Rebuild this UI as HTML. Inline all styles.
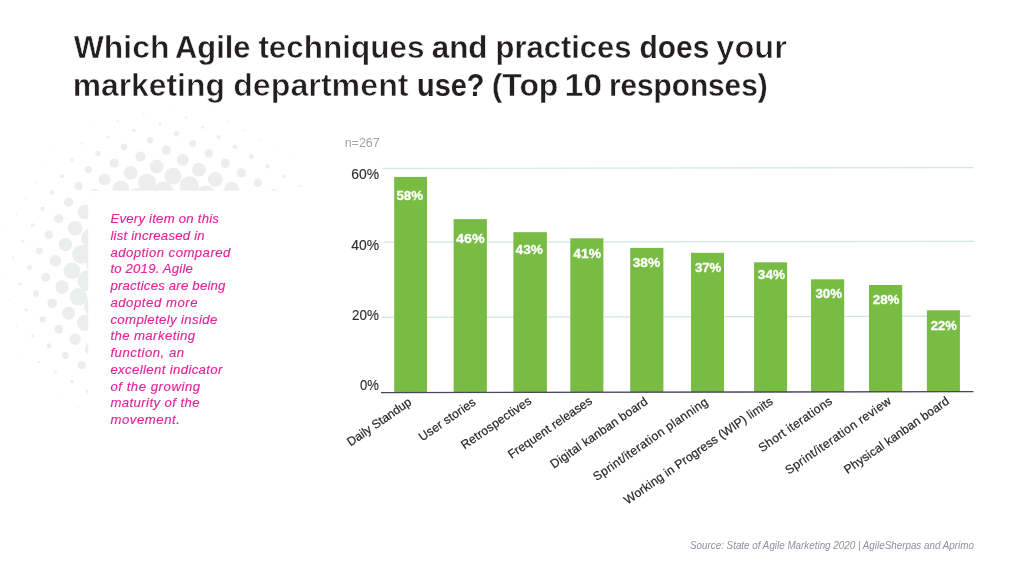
<!DOCTYPE html>
<html><head><meta charset="utf-8"><title>Agile techniques</title>
<style>
html,body{margin:0;padding:0;background:#fff;}
body{width:1024px;height:576px;position:relative;overflow:hidden;font-family:"Liberation Sans",sans-serif;}
svg{position:absolute;left:0;top:0;}
svg text{font-family:"Liberation Sans",sans-serif;}
.note{position:absolute;left:110.4px;top:211px;width:140px;font-size:13.2px;line-height:16.75px;font-style:italic;color:#e3239a;white-space:nowrap;-webkit-text-stroke:0.15px #e3239a;}
.note div{position:absolute;left:0;}
#wrap{position:absolute;left:0;top:0;width:1024px;height:576px;background:transparent;will-change:transform;}
</style></head><body><div id="wrap">
<svg width="1024" height="576" viewBox="0 0 1024 576"><g fill="#eceeed"><circle cx="-3.1" cy="247.9" r="0.23"/><circle cx="6.7" cy="231.6" r="0.52"/><circle cx="16.5" cy="215.3" r="0.75"/><circle cx="26.2" cy="199.0" r="0.87"/><circle cx="36.0" cy="182.7" r="0.87"/><circle cx="45.8" cy="166.4" r="0.77"/><circle cx="55.6" cy="150.1" r="0.55"/><circle cx="65.4" cy="133.8" r="0.26"/><circle cx="3.4" cy="274.0" r="0.62"/><circle cx="13.2" cy="257.7" r="1.05"/><circle cx="23.0" cy="241.4" r="1.47"/><circle cx="32.8" cy="225.1" r="1.96"/><circle cx="42.5" cy="208.8" r="2.27"/><circle cx="52.3" cy="192.5" r="2.29"/><circle cx="62.1" cy="176.2" r="2.00"/><circle cx="71.9" cy="159.9" r="1.53"/><circle cx="81.7" cy="143.6" r="1.08"/><circle cx="91.5" cy="127.3" r="0.67"/><circle cx="0.1" cy="316.3" r="0.21"/><circle cx="9.9" cy="300.0" r="0.83"/><circle cx="19.7" cy="283.7" r="1.45"/><circle cx="29.5" cy="267.4" r="2.52"/><circle cx="39.3" cy="251.1" r="3.49"/><circle cx="49.0" cy="234.8" r="4.18"/><circle cx="58.8" cy="218.5" r="4.57"/><circle cx="68.6" cy="202.2" r="4.59"/><circle cx="78.4" cy="185.9" r="4.24"/><circle cx="88.2" cy="169.6" r="3.58"/><circle cx="98.0" cy="153.3" r="2.64"/><circle cx="107.8" cy="137.0" r="1.55"/><circle cx="117.6" cy="120.7" r="0.90"/><circle cx="127.4" cy="104.4" r="0.28"/><circle cx="16.4" cy="326.1" r="0.82"/><circle cx="26.2" cy="309.8" r="1.66"/><circle cx="36.0" cy="293.5" r="3.13"/><circle cx="45.8" cy="277.2" r="4.50"/><circle cx="55.6" cy="260.9" r="5.79"/><circle cx="65.4" cy="244.6" r="6.75"/><circle cx="75.1" cy="228.3" r="7.32"/><circle cx="84.9" cy="212.0" r="7.34"/><circle cx="94.7" cy="195.7" r="6.84"/><circle cx="104.5" cy="179.4" r="5.91"/><circle cx="114.3" cy="163.1" r="4.65"/><circle cx="124.1" cy="146.8" r="3.29"/><circle cx="133.9" cy="130.5" r="1.80"/><circle cx="143.7" cy="114.2" r="0.90"/><circle cx="22.9" cy="352.2" r="0.60"/><circle cx="32.7" cy="335.9" r="1.43"/><circle cx="42.5" cy="319.6" r="3.11"/><circle cx="52.3" cy="303.3" r="4.88"/><circle cx="62.1" cy="287.0" r="6.69"/><circle cx="71.9" cy="270.7" r="8.19"/><circle cx="81.6" cy="254.4" r="9.45"/><circle cx="91.4" cy="238.1" r="10.15"/><circle cx="120.8" cy="189.2" r="8.35"/><circle cx="130.6" cy="172.9" r="6.89"/><circle cx="140.4" cy="156.6" r="5.09"/><circle cx="150.2" cy="140.3" r="3.30"/><circle cx="160.0" cy="124.0" r="1.57"/><circle cx="169.8" cy="107.7" r="0.68"/><circle cx="39.2" cy="362.0" r="1.02"/><circle cx="49.0" cy="345.7" r="2.46"/><circle cx="58.8" cy="329.4" r="4.44"/><circle cx="68.6" cy="313.1" r="6.65"/><circle cx="78.4" cy="296.8" r="8.75"/><circle cx="88.2" cy="280.5" r="10.62"/><circle cx="98.0" cy="264.2" r="11.71"/><circle cx="137.1" cy="199.0" r="10.75"/><circle cx="146.9" cy="182.7" r="8.98"/><circle cx="156.7" cy="166.4" r="6.91"/><circle cx="166.5" cy="150.1" r="4.68"/><circle cx="176.3" cy="133.8" r="2.68"/><circle cx="186.1" cy="117.5" r="1.10"/><circle cx="195.8" cy="101.2" r="0.28"/><circle cx="45.7" cy="388.1" r="0.48"/><circle cx="55.5" cy="371.8" r="1.42"/><circle cx="65.3" cy="355.5" r="3.41"/><circle cx="75.1" cy="339.2" r="5.70"/><circle cx="84.9" cy="322.9" r="8.12"/><circle cx="94.7" cy="306.6" r="10.59"/><circle cx="163.2" cy="192.5" r="10.77"/><circle cx="173.0" cy="176.2" r="8.40"/><circle cx="182.8" cy="159.9" r="5.96"/><circle cx="192.6" cy="143.6" r="3.63"/><circle cx="202.4" cy="127.3" r="1.57"/><circle cx="212.2" cy="111.0" r="0.58"/><circle cx="62.0" cy="397.8" r="0.70"/><circle cx="71.8" cy="381.5" r="1.86"/><circle cx="81.6" cy="365.2" r="4.07"/><circle cx="91.4" cy="348.9" r="6.61"/><circle cx="189.3" cy="185.9" r="9.63"/><circle cx="199.1" cy="169.6" r="6.92"/><circle cx="208.9" cy="153.3" r="4.30"/><circle cx="218.7" cy="137.0" r="2.07"/><circle cx="228.4" cy="120.7" r="0.80"/><circle cx="78.3" cy="407.6" r="0.81"/><circle cx="88.1" cy="391.3" r="2.13"/><circle cx="205.6" cy="195.7" r="10.29"/><circle cx="215.4" cy="179.4" r="7.42"/><circle cx="225.2" cy="163.1" r="4.69"/><circle cx="235.0" cy="146.8" r="2.37"/><circle cx="244.8" cy="130.5" r="0.91"/><circle cx="231.7" cy="189.2" r="7.41"/><circle cx="241.5" cy="172.9" r="4.68"/><circle cx="251.3" cy="156.6" r="2.37"/><circle cx="261.0" cy="140.3" r="0.90"/><circle cx="257.8" cy="182.7" r="4.29"/><circle cx="267.6" cy="166.4" r="2.06"/><circle cx="277.4" cy="150.1" r="0.79"/><circle cx="274.1" cy="192.5" r="3.61"/><circle cx="283.9" cy="176.2" r="1.55"/><circle cx="293.6" cy="159.9" r="0.57"/><circle cx="300.2" cy="185.9" r="1.09"/><circle cx="310.0" cy="169.6" r="0.27"/></g><rect x="88.2" y="190.7" width="936" height="386" fill="#fff"/><line x1="382.5" y1="168.4" x2="973.0" y2="167.6" stroke="#cfe7e0" stroke-width="1.2"/><line x1="383.7" y1="242.2" x2="973.9" y2="241.4" stroke="#cfe7e0" stroke-width="1.2"/><line x1="381.0" y1="317.4" x2="970.7" y2="316.2" stroke="#cfe7e0" stroke-width="1.2"/><rect x="394.2" y="176.9" width="32.8" height="215.1" fill="#78bc43"/><rect x="453.6" y="219.1" width="33.3" height="172.9" fill="#78bc43"/><rect x="513.4" y="232.2" width="33.5" height="159.8" fill="#78bc43"/><rect x="570.3" y="238.3" width="33.1" height="153.7" fill="#78bc43"/><rect x="630.2" y="247.9" width="33.2" height="144.1" fill="#78bc43"/><rect x="691.0" y="252.8" width="33.0" height="139.2" fill="#78bc43"/><rect x="754.1" y="262.3" width="33.0" height="129.7" fill="#78bc43"/><rect x="811.0" y="279.3" width="33.2" height="112.7" fill="#78bc43"/><rect x="869.0" y="285.0" width="33.2" height="107.0" fill="#78bc43"/><rect x="926.9" y="310.3" width="33.0" height="81.7" fill="#78bc43"/><text x="409.7" y="199.5" text-anchor="middle" font-weight="bold" font-size="13.3" fill="#fff" stroke="#fff" stroke-width="0.3" textLength="26.6" lengthAdjust="spacingAndGlyphs">58%</text><text x="470.4" y="242.8" text-anchor="middle" font-weight="bold" font-size="13.3" fill="#fff" stroke="#fff" stroke-width="0.3" textLength="28.7" lengthAdjust="spacingAndGlyphs">46%</text><text x="529.2" y="254.0" text-anchor="middle" font-weight="bold" font-size="13.3" fill="#fff" stroke="#fff" stroke-width="0.3" textLength="27.3" lengthAdjust="spacingAndGlyphs">43%</text><text x="587.2" y="257.8" text-anchor="middle" font-weight="bold" font-size="13.3" fill="#fff" stroke="#fff" stroke-width="0.3" textLength="27.8" lengthAdjust="spacingAndGlyphs">41%</text><text x="646.4" y="266.7" text-anchor="middle" font-weight="bold" font-size="13.3" fill="#fff" stroke="#fff" stroke-width="0.3" textLength="27.5" lengthAdjust="spacingAndGlyphs">38%</text><text x="708.1" y="271.9" text-anchor="middle" font-weight="bold" font-size="13.3" fill="#fff" stroke="#fff" stroke-width="0.3" textLength="26.4" lengthAdjust="spacingAndGlyphs">37%</text><text x="771.5" y="279.3" text-anchor="middle" font-weight="bold" font-size="13.3" fill="#fff" stroke="#fff" stroke-width="0.3" textLength="27.3" lengthAdjust="spacingAndGlyphs">34%</text><text x="828.7" y="297.7" text-anchor="middle" font-weight="bold" font-size="13.3" fill="#fff" stroke="#fff" stroke-width="0.3" textLength="26.6" lengthAdjust="spacingAndGlyphs">30%</text><text x="886.1" y="303.6" text-anchor="middle" font-weight="bold" font-size="13.3" fill="#fff" stroke="#fff" stroke-width="0.3" textLength="26.7" lengthAdjust="spacingAndGlyphs">28%</text><text x="943.9" y="330.3" text-anchor="middle" font-weight="bold" font-size="13.3" fill="#fff" stroke="#fff" stroke-width="0.3" textLength="26.1" lengthAdjust="spacingAndGlyphs">22%</text><line x1="381" y1="392.6" x2="973.5" y2="391.6" stroke="#45475f" stroke-width="1.35"/><text x="379" y="179.0" text-anchor="end" font-size="15" fill="#2e2e2e" stroke="#2e2e2e" stroke-width="0.15" textLength="27.8" lengthAdjust="spacingAndGlyphs">60%</text><text x="379" y="249.7" text-anchor="end" font-size="15" fill="#2e2e2e" stroke="#2e2e2e" stroke-width="0.15" textLength="27.8" lengthAdjust="spacingAndGlyphs">40%</text><text x="379" y="320.1" text-anchor="end" font-size="15" fill="#2e2e2e" stroke="#2e2e2e" stroke-width="0.15" textLength="26.9" lengthAdjust="spacingAndGlyphs">20%</text><text x="379" y="389.8" text-anchor="end" font-size="15" fill="#2e2e2e" stroke="#2e2e2e" stroke-width="0.15" textLength="18.9" lengthAdjust="spacingAndGlyphs">0%</text><text x="344.7" y="146.7" font-size="12" fill="#a1a5aa" textLength="35.0" lengthAdjust="spacingAndGlyphs">n=267</text><text x="973.9" y="548.7" text-anchor="end" font-size="10" font-style="italic" fill="#8f8e9b" textLength="283.9" lengthAdjust="spacingAndGlyphs">Source: State of Agile Marketing 2020 | AgileSherpas and Aprimo</text><text transform="translate(412.4 403.9) rotate(-34.6)" text-anchor="end" font-size="12.2" fill="#262626" stroke="#262626" stroke-width="0.2" textLength="75.2" lengthAdjust="spacing">Daily Standup</text><text transform="translate(476.6 404.1) rotate(-34.6)" text-anchor="end" font-size="12.2" fill="#262626" stroke="#262626" stroke-width="0.2" textLength="66.0" lengthAdjust="spacing">User stories</text><text transform="translate(532.2 402.8) rotate(-34.6)" text-anchor="end" font-size="12.2" fill="#262626" stroke="#262626" stroke-width="0.2" textLength="82.3" lengthAdjust="spacing">Retrospectives</text><text transform="translate(592.9 402.8) rotate(-34.6)" text-anchor="end" font-size="12.2" fill="#262626" stroke="#262626" stroke-width="0.2" textLength="99.0" lengthAdjust="spacing">Frequent releases</text><text transform="translate(648.5 403.4) rotate(-34.6)" text-anchor="end" font-size="12.2" fill="#262626" stroke="#262626" stroke-width="0.2" textLength="115.0" lengthAdjust="spacing">Digital kanban board</text><text transform="translate(708.8 403.8) rotate(-34.6)" text-anchor="end" font-size="12.2" fill="#262626" stroke="#262626" stroke-width="0.2" textLength="136.4" lengthAdjust="spacing">Sprint/iteration planning</text><text transform="translate(773.7 403.3) rotate(-34.75)" text-anchor="end" font-size="12.2" fill="#262626" stroke="#262626" stroke-width="0.2" textLength="177.8" lengthAdjust="spacing">Working in Progress (WIP) limits</text><text transform="translate(833.0 403.0) rotate(-34.8)" text-anchor="end" font-size="12.2" fill="#262626" stroke="#262626" stroke-width="0.2" textLength="86.6" lengthAdjust="spacing">Short iterations</text><text transform="translate(892.0 403.0) rotate(-34.8)" text-anchor="end" font-size="12.2" fill="#262626" stroke="#262626" stroke-width="0.2" textLength="125.9" lengthAdjust="spacing">Sprint/iteration review</text><text transform="translate(950.0 403.0) rotate(-34.8)" text-anchor="end" font-size="12.2" fill="#262626" stroke="#262626" stroke-width="0.2" textLength="124.7" lengthAdjust="spacing">Physical kanban board</text></svg>
<svg width="1024" height="576" viewBox="0 0 1024 576"><g font-weight="bold" font-size="31.5" fill="#231f20"><text x="73.72" y="58.0" textLength="95.71" lengthAdjust="spacingAndGlyphs" stroke="#fff" stroke-width="0.52">Which</text><text x="175.02" y="58.0" textLength="75.46" lengthAdjust="spacingAndGlyphs" stroke="#fff" stroke-width="0.35">Agile</text><text x="258.40" y="58.0" textLength="166.08" lengthAdjust="spacingAndGlyphs" stroke="#fff" stroke-width="0.53">techniques</text><text x="431.74" y="58.0" textLength="55.70" lengthAdjust="spacingAndGlyphs" stroke="#fff" stroke-width="0.30">and</text><text x="495.62" y="58.0" textLength="135.90" lengthAdjust="spacingAndGlyphs" stroke="#fff" stroke-width="0.41">practices</text><text x="639.59" y="58.0" textLength="69.70" lengthAdjust="spacingAndGlyphs" stroke="#fff" stroke-width="0.21">does</text><text x="716.39" y="58.0" textLength="70.42" lengthAdjust="spacingAndGlyphs" stroke="#fff" stroke-width="0.61">your</text><text x="72.67" y="96.0" textLength="152.24" lengthAdjust="spacingAndGlyphs" stroke="#fff" stroke-width="0.51">marketing</text><text x="233.17" y="96.0" textLength="175.43" lengthAdjust="spacingAndGlyphs" stroke="#fff" stroke-width="0.64">department</text><text x="417.11" y="96.0" textLength="67.39" lengthAdjust="spacingAndGlyphs" stroke="#fff" stroke-width="0.05">use?</text><text x="491.68" y="96.0" textLength="66.69" lengthAdjust="spacingAndGlyphs" stroke="#fff" stroke-width="0.41">(Top</text><text x="564.44" y="96.0" textLength="37.77" lengthAdjust="spacingAndGlyphs" stroke="#fff" stroke-width="0.43">10</text><text x="608.95" y="96.0" textLength="158.66" lengthAdjust="spacingAndGlyphs" stroke="#fff" stroke-width="0.26">responses)</text></g></svg>
<div class="note"><div style="top:0.00px;letter-spacing:0.22px">Every item on this</div><div style="top:16.75px;letter-spacing:0.21px">list increased in</div><div style="top:33.50px;letter-spacing:0.44px">adoption compared</div><div style="top:50.25px;letter-spacing:0.18px">to 2019. Agile</div><div style="top:67.00px;letter-spacing:0.20px">practices are being</div><div style="top:83.75px;letter-spacing:0.53px">adopted more</div><div style="top:100.50px;letter-spacing:0.36px">completely inside</div><div style="top:117.25px;letter-spacing:0.40px">the marketing</div><div style="top:134.00px;letter-spacing:0.50px">function, an</div><div style="top:150.75px;letter-spacing:0.36px">excellent indicator</div><div style="top:167.50px;letter-spacing:0.53px">of the growing</div><div style="top:184.25px;letter-spacing:0.40px">maturity of the</div><div style="top:201.00px;letter-spacing:0.54px">movement.</div></div>
</div></body></html>
